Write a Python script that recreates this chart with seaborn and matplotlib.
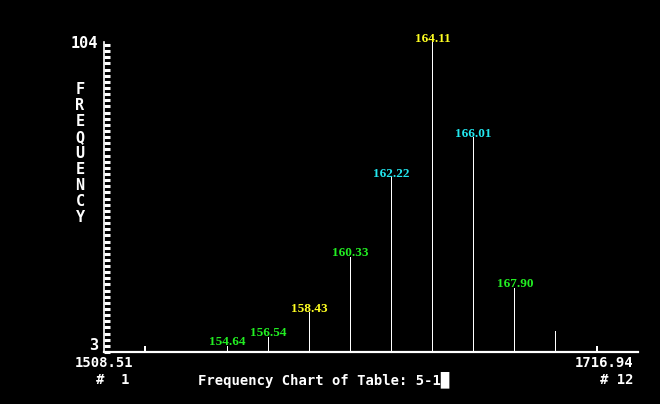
import numpy as np
import pandas as pd
import seaborn as sns
import matplotlib.pyplot as plt

# bin values (12 bins) and their frequencies
bins = ['1508.51', '1527.46', '1546.41', '1565.35', '1584.30', '1603.25',
        '1622.20', '1641.14', '1660.09', '1679.04', '1697.99', '1716.94']
freq = [5, 0, 5, 8, 16, 34, 60, 104, 73, 24, 10, 5]
labels = ['', '', '154.64', '156.54', '158.43', '160.33',
          '162.22', '164.11', '166.01', '167.90', '', '']
label_colors = ['', '', '#22ee22', '#22ee22', '#ffff22', '#22ee22',
                '#22e8f0', '#ffff22', '#22e8f0', '#22ee22', '', '']
y_min, y_max = 3, 104

df = pd.DataFrame({'bin': bins, 'freq': freq})

W, H = 660, 404
fig = plt.figure(figsize=(W / 100, H / 100), dpi=100, facecolor='black')
ax = fig.add_axes([104 / W, 52 / H, (638 - 104) / W, (352 - 42) / H])
ax.set_facecolor('black')

sns.barplot(data=df, x='bin', y='freq', order=bins, color='white',
            saturation=1, width=0.03, linewidth=0, ax=ax)
for p in ax.patches:
    p.set_antialiased(False)

ax.set_xlim(-1.0, 12.0)
ax.set_ylim(y_min, y_max)
ax.set_xlabel('')
ax.set_ylabel('')
ax.set_xticks([])
ax.set_yticks(np.arange(y_min, y_max + 1, 2))
ax.tick_params(axis='y', direction='in', length=4.5, width=2.2,
               color='white', labelleft=False)
for side in ['top', 'right']:
    ax.spines[side].set_visible(False)
ax.spines['left'].set_color('white')
ax.spines['left'].set_linewidth(1.2)
ax.spines['bottom'].set_color('white')
ax.spines['bottom'].set_linewidth(1.6)

for i, (lab, c) in enumerate(zip(labels, label_colors)):
    if lab:
        ax.annotate(lab, (i, freq[i]), xytext=(0, 2.5), textcoords='offset points',
                    ha='center', va='center', color=c, fontsize=9.5,
                    fontweight='bold', family='Liberation Serif')

mono = dict(family='DejaVu Sans Mono', fontweight='bold', color='white',
            fontsize=10)

def ftext(x, y, s, **kw):
    fig.text(x / W, 1 - y / H, s, **{**mono, **kw})

ftext(98, 43, '104', ha='right', va='center', fontsize=11)
ftext(98, 345, '3', ha='right', va='center', fontsize=11)
for i, ch in enumerate('FREQUENCY'):
    ftext(80, 89 + i * 16.1, ch, ha='center', va='center', fontsize=11)

ftext(75, 363, bins[0], ha='left', va='center')
ftext(130, 380, '#  1', ha='right', va='center')
ftext(633, 363, bins[-1], ha='right', va='center')
ftext(633, 380, '# 12', ha='right', va='center')
ftext(198, 380, 'Frequency Chart of Table: 5-1\u2588', ha='left', va='center')

fig.savefig('out.png', dpi=100, facecolor='black')
